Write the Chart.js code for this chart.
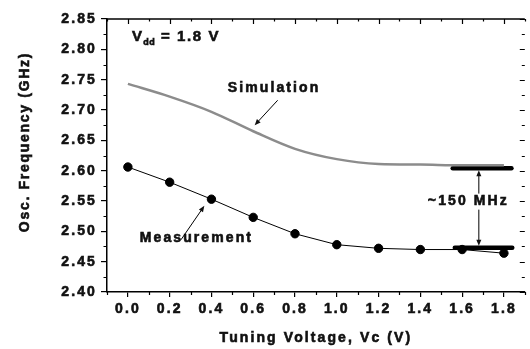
<!DOCTYPE html>
<html>
<head>
<meta charset="utf-8">
<script src="https://cdn.jsdelivr.net/npm/chart.js@4.4.1/dist/chart.umd.min.js"></script>
<style>
  html, body { margin: 0; padding: 0; background: #fff; overflow: hidden; }
</style>
</head>
<body>
<canvas id="chart" width="530" height="349"></canvas>
<script>
// tuning voltage (V) and oscillation frequency (GHz)
const voltages = [0.0, 0.2, 0.4, 0.6, 0.8, 1.0, 1.2, 1.4, 1.6, 1.8];
const simulation = [2.743, 2.722, 2.697, 2.665, 2.636, 2.619, 2.611, 2.610, 2.609, 2.609];
const measurement = [2.606, 2.581, 2.553, 2.523, 2.496, 2.478, 2.472, 2.470, 2.470, 2.464];

// thick horizontal markers bounding the ~150 MHz gap
const upperMarkX = [1.555, 1.836];
const upperMarkY = 2.604;
const lowerMarkX = [1.565, 1.840];
const lowerMarkY = 2.473;

const xTicks = [0.0, 0.2, 0.4, 0.6, 0.8, 1.0, 1.2, 1.4, 1.6, 1.8];
const xMinor = [-0.1, 0.1, 0.3, 0.5, 0.7, 0.9, 1.1, 1.3, 1.5, 1.7, 1.9];
const yTicks = [2.40, 2.45, 2.50, 2.55, 2.60, 2.65, 2.70, 2.75, 2.80, 2.85];
const yMinor = [2.425, 2.475, 2.525, 2.575, 2.625, 2.675, 2.725, 2.775, 2.825];

const FONT = 'Liberation Sans, Arial, sans-serif';
const INK = '#111';
const SPACING = '2.1px';
const HEAVY = 0.6; // extra stroke to fatten the bold text

const pts = (xs, ys) => xs.map((x, i) => ({ x, y: Array.isArray(ys) ? ys[i] : ys }));

const spacingPlugin = {
  id: 'spacing',
  beforeUpdate(chart) { chart.ctx.letterSpacing = SPACING; },
  beforeLayout(chart) { chart.ctx.letterSpacing = SPACING; },
  beforeDraw(chart) { chart.ctx.letterSpacing = SPACING; },
};

// top line, minor ticks, and inward ticks on top/right sides
const framePlugin = {
  id: 'frame',
  afterDraw(chart) {
    const { ctx, chartArea: a, scales: { x, y } } = chart;
    ctx.save();
    ctx.strokeStyle = '#000';
    ctx.lineWidth = 1.5;
    ctx.beginPath();
    ctx.moveTo(a.left, a.top);
    ctx.lineTo(a.right, a.top);
    ctx.stroke();
    ctx.lineWidth = 1.2;
    ctx.beginPath();
    xTicks.forEach(v => {
      const px = Math.round(x.getPixelForValue(v)) + 0.5;
      ctx.moveTo(px, a.top); ctx.lineTo(px, a.top + 5);
    });
    xMinor.forEach(v => {
      const px = Math.round(x.getPixelForValue(v)) + 0.5;
      ctx.moveTo(px, a.top); ctx.lineTo(px, a.top + 2.5);
      ctx.moveTo(px, a.bottom); ctx.lineTo(px, a.bottom + 3);
    });
    yTicks.forEach(v => {
      const py = Math.round(y.getPixelForValue(v)) + 0.5;
      ctx.moveTo(a.right, py); ctx.lineTo(a.right - 5, py);
    });
    yMinor.forEach(v => {
      const py = Math.round(y.getPixelForValue(v)) + 0.5;
      ctx.moveTo(a.right, py); ctx.lineTo(a.right - 3, py);
      ctx.moveTo(a.left, py); ctx.lineTo(a.left - 3.5, py);
    });
    ctx.stroke();
    ctx.restore();
  },
};

function arrow(ctx, x1, y1, x2, y2) {
  const ang = Math.atan2(y2 - y1, x2 - x1);
  const len = 6, half = 2.5;
  ctx.beginPath();
  ctx.moveTo(x1, y1);
  ctx.lineTo(x2 - Math.cos(ang) * len * 0.8, y2 - Math.sin(ang) * len * 0.8);
  ctx.stroke();
  ctx.beginPath();
  ctx.moveTo(x2, y2);
  ctx.lineTo(x2 - Math.cos(ang) * len - Math.sin(ang) * half, y2 - Math.sin(ang) * len + Math.cos(ang) * half);
  ctx.lineTo(x2 - Math.cos(ang) * len + Math.sin(ang) * half, y2 - Math.sin(ang) * len - Math.cos(ang) * half);
  ctx.closePath();
  ctx.fill();
}

function text(ctx, str, x, y) {
  ctx.fillText(str, x, y);
  ctx.save();
  ctx.lineWidth = HEAVY;
  ctx.strokeStyle = INK;
  ctx.strokeText(str, x, y);
  ctx.restore();
}

const notesPlugin = {
  id: 'notes',
  afterDraw(chart) {
    const { ctx, chartArea: a, scales: { x, y } } = chart;
    const X = v => x.getPixelForValue(v);
    const Y = v => y.getPixelForValue(v);
    ctx.save();
    ctx.letterSpacing = SPACING;
    ctx.fillStyle = INK;
    ctx.strokeStyle = '#000';
    ctx.lineWidth = 1;
    ctx.textBaseline = 'middle';
    ctx.textAlign = 'center';
    ctx.font = `bold 14px ${FONT}`;

    // x axis title
    text(ctx, 'Tuning Voltage, Vc (V)', (a.left + a.right) / 2, 338);

    // y axis title
    ctx.save();
    ctx.letterSpacing = '1.7px';
    ctx.translate(25, 142);
    ctx.rotate(-Math.PI / 2);
    text(ctx, 'Osc. Frequency (GHz)', 0, 0);
    ctx.restore();

    // Vdd label
    ctx.textAlign = 'left';
    ctx.textBaseline = 'alphabetic';
    let tx = X(0.02), ty = Y(2.813);
    ctx.font = `bold 15px ${FONT}`;
    text(ctx, 'V', tx, ty);
    tx += ctx.measureText('V').width - 1;
    ctx.font = `bold 9px ${FONT}`;
    ctx.letterSpacing = '0.5px';
    text(ctx, 'dd', tx, ty + 4);
    tx += ctx.measureText('dd').width;
    ctx.font = `bold 15px ${FONT}`;
    ctx.letterSpacing = '1.6px';
    text(ctx, ' = 1.8 V', tx, ty);
    ctx.letterSpacing = SPACING;

    ctx.textBaseline = 'middle';
    ctx.textAlign = 'center';
    ctx.font = `bold 14px ${FONT}`;

    // Simulation label and arrow
    text(ctx, 'Simulation', X(0.70), Y(2.736));
    arrow(ctx, X(0.717), Y(2.716), X(0.607), Y(2.675));

    // Measurement label and arrow
    text(ctx, 'Measurement', X(0.328), Y(2.4886));
    arrow(ctx, X(0.254), Y(2.486), X(0.366), Y(2.542));

    // ~150 MHz double arrow
    const ax = X(1.68);
    arrow(ctx, ax, Y(2.549), ax, Y(upperMarkY) + 2);
    arrow(ctx, ax, Y(2.549), ax, Y(lowerMarkY) - 2);
    const label = '~150 MHz';
    const w = ctx.measureText(label).width;
    ctx.fillStyle = '#fff';
    ctx.fillRect(X(1.625) - w / 2, Y(2.549) - 8, w, 16);
    ctx.fillStyle = INK;
    text(ctx, label, X(1.625) + 1, Y(2.549));
    ctx.restore();
  },
};

const tickFont = { family: FONT, size: 14, weight: 'bold' };

new Chart(document.getElementById('chart'), {
  type: 'line',
  data: {
    datasets: [
      {
        label: 'Simulation',
        data: pts(voltages, simulation),
        borderColor: '#8c8c8c',
        borderWidth: 2.5,
        pointRadius: 0,
        cubicInterpolationMode: 'monotone',
      },
      {
        label: 'Measurement',
        data: pts(voltages, measurement),
        borderColor: '#000',
        borderWidth: 1,
        pointRadius: 4.2,
        pointBackgroundColor: '#000',
        pointBorderColor: '#000',
      },
      {
        label: 'upper mark',
        data: pts(upperMarkX, upperMarkY),
        borderColor: '#000',
        borderWidth: 4.5,
        pointRadius: 0,
        borderCapStyle: 'round',
      },
      {
        label: 'lower mark',
        data: pts(lowerMarkX, lowerMarkY),
        borderColor: '#000',
        borderWidth: 4.5,
        pointRadius: 0,
        borderCapStyle: 'round',
      },
    ],
  },
  options: {
    responsive: false,
    animation: false,
    devicePixelRatio: 1,
    layout: { padding: { top: 19, right: 0, left: 0, bottom: 0 } },
    plugins: { legend: { display: false }, tooltip: { enabled: false } },
    scales: {
      x: {
        type: 'linear',
        min: -0.1,
        max: 1.9,
        afterBuildTicks: s => { s.ticks = xTicks.map(value => ({ value })); },
        afterFit: s => { s.height = 57; },
        ticks: {
          callback: v => v.toFixed(1),
          font: tickFont,
          color: INK,
          textStrokeColor: INK,
          textStrokeWidth: HEAVY,
          padding: 4,
          maxRotation: 0,
          autoSkip: false,
        },
        grid: { drawOnChartArea: false, tickLength: 5, color: '#000', lineWidth: 1.2 },
        border: { color: '#000', width: 1.5 },
      },
      y: {
        type: 'linear',
        min: 2.40,
        max: 2.85,
        afterBuildTicks: s => { s.ticks = yTicks.map(value => ({ value })); },
        afterFit: s => { s.width = 107; },
        ticks: {
          callback: v => v.toFixed(2),
          font: tickFont,
          color: INK,
          textStrokeColor: INK,
          textStrokeWidth: HEAVY,
          padding: 4,
          autoSkip: false,
        },
        grid: { drawOnChartArea: false, tickLength: 6, color: '#000', lineWidth: 1.2 },
        border: { color: '#000', width: 1.5 },
      },
    },
  },
  plugins: [spacingPlugin, framePlugin, notesPlugin],
});
</script>
</body>
</html>
